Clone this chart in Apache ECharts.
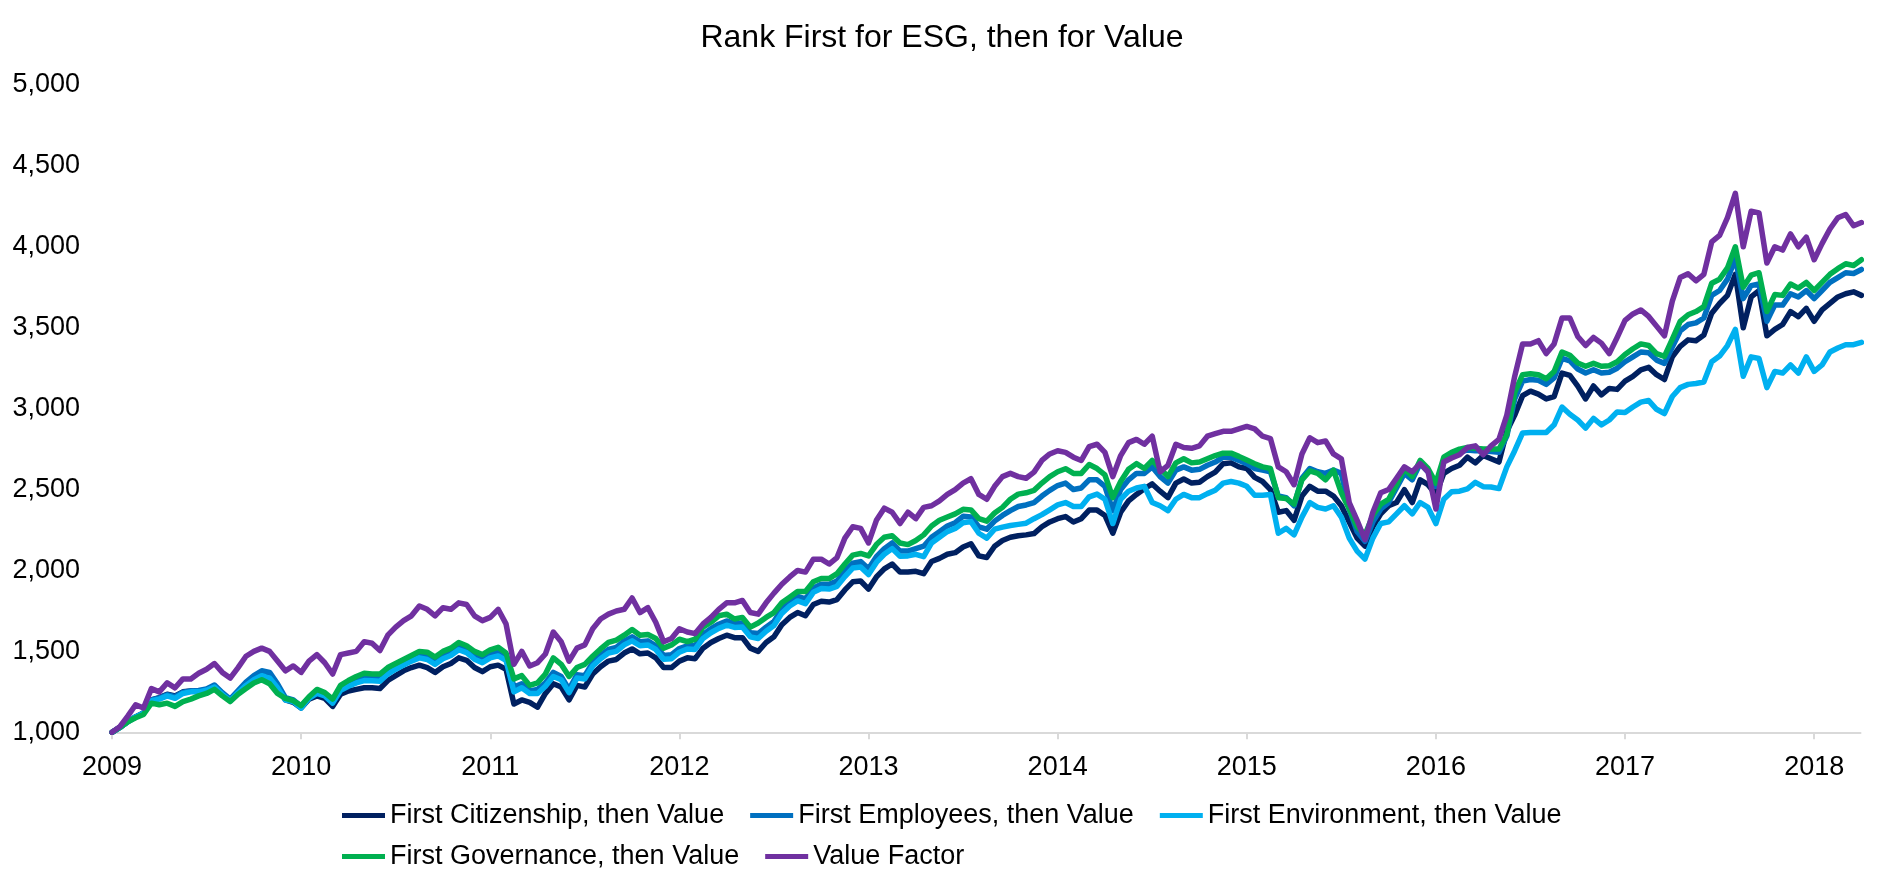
<!DOCTYPE html>
<html>
<head>
<meta charset="utf-8">
<script src="https://cdn.jsdelivr.net/npm/echarts@6/dist/echarts.min.js"></script>
<style>html,body{margin:0;padding:0;background:#fff;}#c{width:1884px;height:886px;}</style>
</head>
<body>
<div id="c"></div>
<script>
// Semi-monthly samples starting Jan 2009 (step = 1/24 year)
const startYear = 2009;
const stepYears = 1 / 24;
const yearTicks = [2009, 2010, 2011, 2012, 2013, 2014, 2015, 2016, 2017, 2018];
const seriesNames = ['First Citizenship, then Value', 'First Employees, then Value', 'First Environment, then Value', 'First Governance, then Value', 'Value Factor'];

const citizenship = [
1000,1030,1065,1095,1120,1200,1215,1235,1225,1250,1255,1250,1265,1285,1240,1195,1250,1300,1340,1365,1350,1290,1200,1185,1150,1205,1225,1210,1160,1235,1255,1265,1275,1275,1270,1320,1350,1380,1400,1415,1400,1370,1405,1425,1460,1445,1400,1375,1405,1415,1390,1175,1200,1185,1155,
1240,1300,1280,1200,1290,1280,1360,1405,1440,1450,1490,1515,1485,1490,1460,1400,1400,1440,1460,1455,1520,1555,1580,1600,1585,1585,1520,1500,1555,1590,1665,1710,1740,1720,1790,1810,1805,1820,1880,1930,1935,1885,1960,2010,2040,1990,1990,1995,1980,2055,2075,2100,2110,
2145,2165,2090,2080,2150,2185,2205,2215,2220,2228,2270,2300,2320,2333,2300,2320,2373,2373,2340,2230,2360,2430,2470,2505,2535,2490,2450,2540,2565,2540,2545,2580,2608,2660,2665,2640,2630,2575,2550,2500,2360,2370,2310,2460,2520,2490,2490,2460,2400,2300,2200,2150,2270,2350,2400,
2420,2500,2420,2560,2530,2470,2600,2630,2650,2700,2665,2710,2690,2670,2860,2960,3080,3108,3090,3060,3075,3220,3205,3139,3060,3140,3085,3125,3119,3170,3200,3240,3255,3210,3180,3320,3385,3425,3420,3455,3590,3650,3700,3830,3500,3690,3730,3450,3490,3520,3600,3568,3620,3540,3610,3650,3690,3710,3722,3700];

const employees = [
1000,1030,1065,1095,1120,1200,1212,1232,1220,1248,1255,1258,1268,1292,1245,1205,1258,1310,1350,1380,1370,1300,1215,1200,1160,1215,1250,1235,1190,1270,1300,1320,1340,1338,1335,1378,1405,1430,1455,1478,1470,1440,1475,1495,1530,1512,1475,1452,1482,1495,1465,1280,1300,1255,1265,
1305,1370,1345,1265,1355,1350,1430,1478,1512,1525,1565,1590,1560,1565,1535,1475,1480,1518,1535,1535,1605,1640,1668,1688,1672,1675,1615,1610,1650,1685,1760,1805,1840,1825,1890,1915,1915,1935,1995,2045,2055,2010,2085,2135,2170,2120,2120,2135,2150,2205,2240,2275,2295,
2335,2330,2270,2255,2305,2340,2370,2395,2405,2420,2460,2495,2525,2540,2500,2510,2560,2560,2520,2370,2500,2560,2600,2600,2640,2580,2540,2620,2640,2620,2625,2650,2670,2700,2700,2680,2660,2630,2620,2610,2460,2450,2400,2570,2630,2610,2600,2620,2600,2380,2240,2180,2300,2380,2420,
2510,2600,2560,2660,2610,2520,2680,2710,2730,2745,2740,2740,2735,2730,2830,3060,3170,3180,3175,3150,3190,3310,3295,3245,3220,3240,3220,3225,3250,3290,3320,3350,3345,3300,3280,3380,3480,3520,3530,3560,3700,3730,3800,3930,3680,3760,3770,3540,3640,3640,3710,3690,3730,3680,3730,3780,3810,3840,3835,3860];

const environment = [
1000,1030,1065,1095,1118,1195,1205,1225,1210,1240,1250,1250,1260,1280,1235,1195,1245,1290,1325,1350,1335,1275,1200,1190,1150,1210,1240,1225,1180,1260,1285,1305,1320,1318,1315,1360,1390,1415,1440,1460,1450,1420,1455,1475,1510,1492,1452,1430,1460,1472,1445,1250,1275,1240,1240,
1285,1345,1325,1245,1335,1330,1410,1455,1490,1500,1540,1565,1535,1540,1512,1452,1455,1495,1515,1512,1580,1615,1642,1662,1648,1650,1590,1580,1625,1660,1735,1780,1812,1795,1865,1888,1885,1902,1962,2015,2022,1975,2050,2100,2135,2088,2090,2100,2085,2170,2205,2240,2260,
2295,2302,2230,2200,2255,2268,2278,2285,2292,2320,2345,2375,2405,2420,2395,2395,2455,2472,2440,2290,2440,2490,2510,2520,2420,2400,2370,2440,2470,2450,2450,2475,2496,2540,2550,2540,2520,2465,2465,2470,2230,2260,2220,2330,2420,2390,2380,2400,2330,2200,2120,2070,2200,2290,2300,
2350,2400,2350,2420,2390,2290,2440,2486,2490,2505,2545,2518,2516,2506,2640,2740,2850,2853,2853,2853,2900,3010,2965,2930,2880,2940,2900,2930,2980,2976,3010,3040,3050,2996,2970,3075,3130,3150,3155,3165,3290,3325,3390,3490,3200,3320,3310,3130,3230,3220,3270,3220,3320,3230,3270,3350,3375,3395,3395,3410];

const governance = [
1000,1030,1065,1090,1110,1180,1170,1180,1160,1190,1205,1225,1240,1265,1225,1190,1235,1270,1305,1325,1300,1240,1210,1195,1165,1220,1265,1245,1205,1290,1320,1345,1365,1360,1360,1400,1425,1450,1475,1500,1495,1465,1500,1520,1555,1535,1500,1480,1510,1525,1490,1330,1350,1290,1305,
1360,1460,1420,1345,1400,1420,1470,1515,1555,1570,1600,1635,1600,1605,1580,1520,1540,1575,1560,1575,1650,1680,1720,1730,1700,1710,1650,1675,1710,1740,1800,1835,1870,1870,1930,1950,1950,1980,2040,2095,2105,2090,2160,2205,2215,2170,2160,2185,2220,2275,2310,2330,2350,
2378,2374,2320,2305,2355,2390,2440,2472,2480,2495,2540,2580,2610,2629,2600,2600,2655,2630,2590,2450,2550,2625,2660,2630,2680,2630,2580,2665,2690,2665,2670,2690,2710,2725,2725,2705,2682,2660,2640,2630,2450,2445,2410,2560,2615,2600,2560,2620,2480,2380,2270,2220,2340,2410,2440,
2530,2629,2580,2680,2630,2540,2700,2730,2750,2760,2755,2750,2750,2750,2840,3100,3210,3215,3210,3185,3230,3350,3330,3282,3262,3280,3262,3265,3290,3335,3370,3400,3390,3340,3323,3430,3540,3580,3600,3630,3775,3800,3870,4000,3750,3825,3840,3600,3705,3700,3770,3745,3780,3730,3780,3830,3865,3895,3885,3920];

const valueFactor = [
1000,1035,1100,1170,1150,1270,1250,1305,1275,1330,1330,1365,1390,1425,1370,1335,1400,1470,1500,1520,1500,1440,1380,1410,1370,1440,1480,1430,1360,1480,1490,1500,1560,1550,1505,1600,1650,1690,1720,1780,1760,1720,1770,1760,1800,1790,1720,1690,1710,1760,1670,1420,1500,1410,1430,
1484,1620,1560,1440,1520,1540,1640,1700,1730,1750,1760,1830,1740,1770,1680,1560,1580,1640,1620,1610,1670,1710,1760,1800,1800,1815,1740,1730,1800,1860,1915,1960,2000,1990,2070,2070,2040,2080,2200,2270,2260,2170,2310,2385,2360,2290,2360,2320,2390,2400,2430,2470,2500,
2540,2567,2470,2440,2520,2580,2600,2580,2570,2608,2680,2720,2740,2730,2700,2680,2765,2780,2730,2580,2710,2790,2810,2780,2830,2610,2650,2780,2760,2755,2770,2830,2845,2860,2860,2875,2890,2875,2830,2815,2640,2610,2530,2720,2820,2790,2800,2720,2690,2420,2310,2190,2360,2480,2500,
2570,2640,2610,2660,2610,2380,2670,2695,2715,2760,2770,2715,2770,2810,2960,3200,3400,3400,3420,3340,3400,3560,3560,3446,3390,3440,3405,3340,3440,3545,3585,3610,3570,3510,3450,3665,3810,3834,3790,3830,4030,4070,4180,4330,4000,4220,4210,3900,4000,3980,4080,4000,4060,3920,4020,4110,4180,4200,4130,4150];

const colors = ['#002060', '#0070C0', '#00B0F0', '#00B050', '#7030A0'];
const allValues = [citizenship, employees, environment, governance, valueFactor];

function toPairs(vals) {
  return vals.map((v, i) => [startYear + i * stepYears, v]);
}

const FONT = '"Liberation Sans", Arial, sans-serif';
const chart = echarts.init(document.getElementById('c'), null, {renderer: 'canvas'});
chart.setOption({
  animation: false,
  backgroundColor: '#fff',
  color: colors,
  title: {
    text: 'Rank First for ESG, then for Value',
    left: 'center',
    top: 17,
    textStyle: {fontFamily: FONT, fontSize: 32, fontWeight: 'normal', color: '#000'}
  },
  legend: [
    {
      data: seriesNames.slice(0, 3),
      left: 337, top: 797,
      icon: 'rect', itemWidth: 43, itemHeight: 5, itemGap: 26,
      textStyle: {fontFamily: FONT, fontSize: 27, color: '#000'}
    },
    {
      data: seriesNames.slice(3),
      left: 337, top: 838,
      icon: 'rect', itemWidth: 43, itemHeight: 5, itemGap: 26,
      textStyle: {fontFamily: FONT, fontSize: 27, color: '#000'}
    }
  ],
  grid: {left: 112, right: 23.5, top: 85, bottom: 153.7, containLabel: false},
  xAxis: {
    type: 'value',
    min: 2009, max: 2018.245, interval: 1,
    axisLine: {show: true, lineStyle: {color: '#d9d9d9', width: 2}},
    axisTick: {show: true, length: 7, lineStyle: {color: '#d9d9d9', width: 2}, customValues: yearTicks},
    axisLabel: {fontFamily: FONT, fontSize: 27, color: '#000', margin: 22, customValues: yearTicks,
      formatter: v => String(Math.round(v))},
    splitLine: {show: false}
  },
  yAxis: {
    type: 'value',
    min: 1000, max: 5000, interval: 500,
    axisLine: {show: false},
    axisTick: {show: false},
    splitLine: {show: false},
    axisLabel: {fontFamily: FONT, fontSize: 27, color: '#000', margin: 32,
      formatter: v => v.toLocaleString('en-US')}
  },
  series: seriesNames.map((name, k) => ({
    name: name,
    type: 'line',
    data: toPairs(allValues[k]),
    showSymbol: false,
    symbol: 'none',
    lineStyle: {width: 5.5, color: colors[k], cap: 'round', join: 'round'},
    itemStyle: {color: colors[k]},
    z: 2 + k
  }))
});
</script>
</body>
</html>
